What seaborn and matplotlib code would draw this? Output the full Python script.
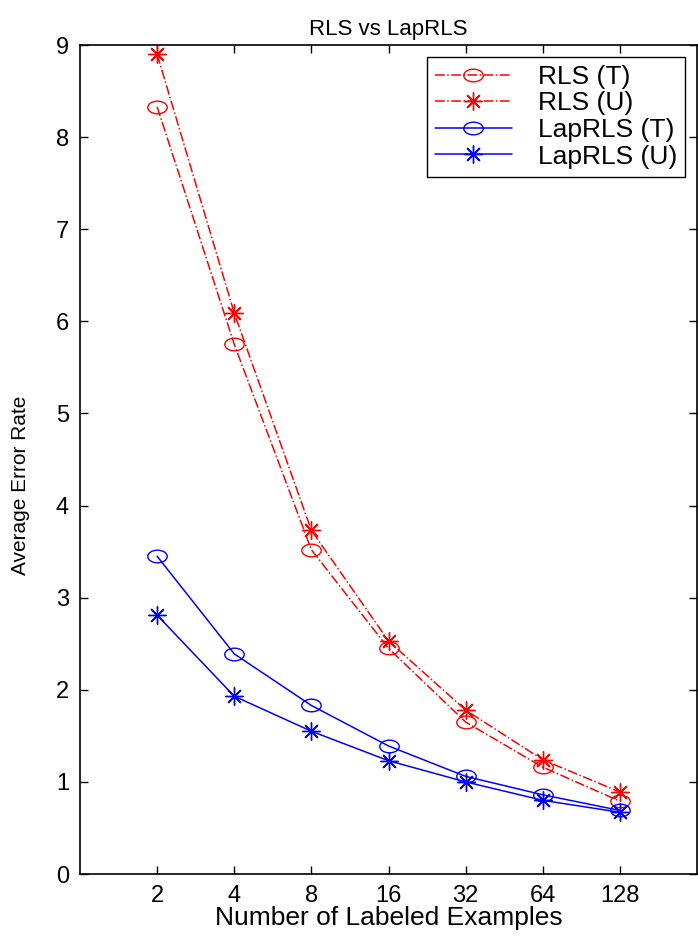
import numpy as np
import pandas as pd
import matplotlib
matplotlib.use("Agg")
import matplotlib.pyplot as plt
from matplotlib.path import Path
from matplotlib.transforms import Affine2D
from matplotlib.ticker import NullLocator
import seaborn as sns

# data
examples = [2, 4, 8, 16, 32, 64, 128]
rls_t = [8.33, 5.75, 3.52, 2.45, 1.65, 1.16, 0.79]
rls_u = [8.90, 6.09, 3.73, 2.53, 1.78, 1.24, 0.89]
lap_t = [3.45, 2.39, 1.83, 1.39, 1.06, 0.86, 0.69]
lap_u = [2.81, 1.93, 1.55, 1.23, 1.00, 0.80, 0.67]
yticks = list(range(0, 10))

sns.set_style("ticks", {"xtick.direction": "in", "ytick.direction": "in"})
plt.rcParams["font.family"] = ["Liberation Sans", "DejaVu Sans"]
plt.rcParams.update({"text.color": "black", "axes.labelcolor": "black",
                     "xtick.color": "black", "ytick.color": "black"})

# matlab-ish markers, a bit wider than tall like the reference
ellipse = Path.unit_circle().transformed(Affine2D().scale(1.0, 0.65))
star = (8, 2, 0)

fig = plt.figure(figsize=(6.98, 9.38), dpi=100)
ax = fig.add_axes([80 / 698, 64 / 938, 617 / 698, 829 / 938])

series = [
    ("RLS (T)", rls_t, "red", "-.", ellipse, 14),
    ("RLS (U)", rls_u, "red", "-.", star, 13),
    ("LapRLS (T)", lap_t, "blue", "-", ellipse, 14),
    ("LapRLS (U)", lap_u, "blue", "-", star, 13),
]
for name, vals, col, ls, mk, ms in series:
    df = pd.DataFrame({"n": examples, "err": vals})
    sns.lineplot(data=df, x="n", y="err", ax=ax, color=col, linestyle=ls,
                 linewidth=1.1, marker=mk, markersize=ms,
                 markerfacecolor="none", markeredgecolor=col,
                 markeredgewidth=1.0, label=name)

ax.set_xscale("log", base=2)
ax.set_xlim(1, 256)
ax.set_xticks(examples)
ax.set_xticklabels([str(v) for v in examples])
ax.xaxis.set_minor_locator(NullLocator())
ax.set_ylim(0, 9)
ax.set_yticks(yticks)

for s in ax.spines.values():
    s.set_visible(True)
    s.set_linewidth(1.2)
    s.set_color("black")
ax.tick_params(direction="in", top=True, right=True, length=6, width=1,
               labelsize=17, color="black", labelcolor="black")
ax.tick_params(axis="x", pad=8)
ax.tick_params(axis="y", pad=8)

ax.set_title("RLS vs LapRLS", fontsize=16, pad=7)
ax.set_xlabel("Number of Labeled Examples", fontsize=19)
ax.set_ylabel("Average Error Rate", fontsize=15)
ax.xaxis.set_label_coords(0.5, -0.039)
ax.yaxis.set_label_coords(-0.081, 0.469)

leg = ax.legend(loc="upper right", fontsize=19, frameon=True, fancybox=False,
                handlelength=2.9, borderpad=0.3, labelspacing=0.1,
                handletextpad=1.0, borderaxespad=0.45)
leg.get_frame().set_edgecolor("black")
leg.get_frame().set_linewidth(1.0)
leg.get_frame().set_alpha(1)

fig.savefig("out.png", dpi=100)
